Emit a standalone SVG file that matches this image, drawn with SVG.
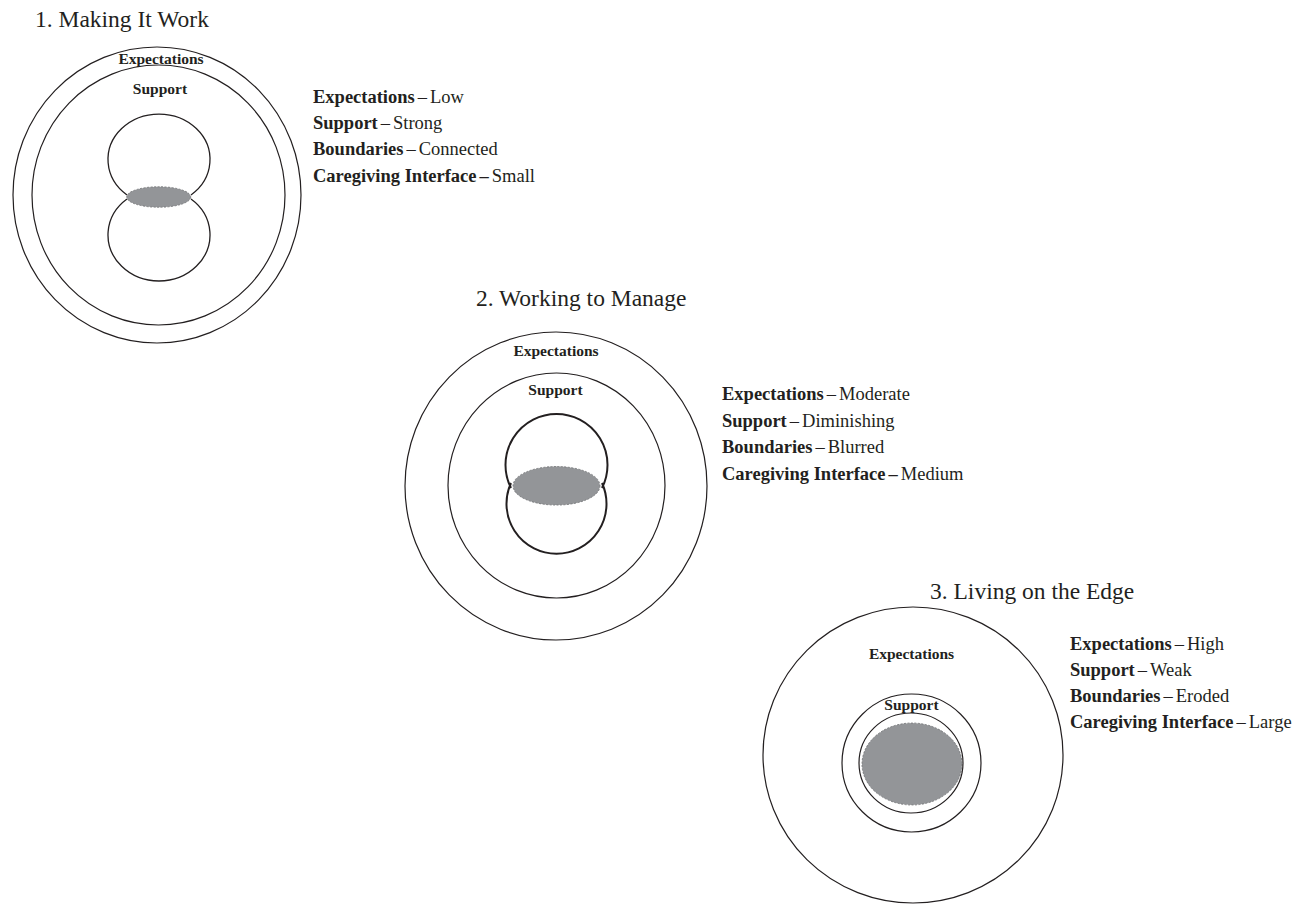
<svg xmlns="http://www.w3.org/2000/svg" width="1304" height="909" viewBox="0 0 1304 909">
<defs>
<style>
.bg{fill:#ffffff}
.ring{fill:none;stroke:#231f20;stroke-width:1.2}
.lobe{fill:none;stroke:#231f20;stroke-width:1.3}
.lobe2{fill:none;stroke:#231f20;stroke-width:2}
.care{fill:#939598;stroke:#6d6e71;stroke-width:0.8;stroke-dasharray:2 1.5}
.title{font-family:"Liberation Serif","Times New Roman",serif;font-size:23.5px;fill:#231f20}
.inlab{font-family:"Liberation Serif","Times New Roman",serif;font-size:15.5px;font-weight:bold;fill:#231f20;text-anchor:middle}
.key{font-family:"Liberation Serif","Times New Roman",serif;font-size:18.5px;fill:#231f20}
.b{font-weight:bold}
</style>
</defs>
<rect class="bg" x="0" y="0" width="1304" height="909"/>

<g id="diagram1">
<text class="title" x="35" y="27">1. Making It Work</text>
<ellipse class="ring" cx="157" cy="195" rx="144" ry="148"/>
<ellipse class="ring" cx="158.5" cy="195" rx="126.5" ry="130"/>
<path class="lobe" d="M127,195 A51,45.5 0 1 1 191,195"/>
<path class="lobe" d="M127,199 A51,46.1 0 1 0 191,199"/>
<ellipse class="care" cx="158.7" cy="197" rx="32" ry="10.3"/>
<text class="inlab" x="161" y="64">Expectations</text>
<text class="inlab" x="160" y="94">Support</text>
<text class="key" x="313" y="102.5"><tspan class="b">Expectations</tspan><tspan dx="3">–</tspan><tspan dx="3">Low</tspan></text>
<text class="key" x="313" y="128.5"><tspan class="b">Support</tspan><tspan dx="3">–</tspan><tspan dx="3">Strong</tspan></text>
<text class="key" x="313" y="155"><tspan class="b">Boundaries</tspan><tspan dx="3">–</tspan><tspan dx="3">Connected</tspan></text>
<text class="key" x="313" y="181.5"><tspan class="b">Caregiving Interface</tspan><tspan class="b" dx="3">–</tspan><tspan dx="3">Small</tspan></text>
</g>

<g id="diagram2">
<text class="title" x="476" y="306">2. Working to Manage</text>
<ellipse class="ring" cx="556" cy="486" rx="151" ry="154"/>
<ellipse class="ring" cx="556.5" cy="485.5" rx="108.5" ry="112.5"/>
<path class="lobe2" d="M511,488 A51,51 0 1 1 602,488"/>
<path class="lobe2" d="M511,483 A50,50 0 1 0 602,483"/>
<ellipse class="care" cx="556.5" cy="485.8" rx="43.5" ry="19.3"/>
<text class="inlab" x="556" y="356">Expectations</text>
<text class="inlab" x="555.5" y="395">Support</text>
<text class="key" x="722" y="400"><tspan class="b">Expectations</tspan><tspan dx="3">–</tspan><tspan dx="3">Moderate</tspan></text>
<text class="key" x="722" y="426.5"><tspan class="b">Support</tspan><tspan dx="3">–</tspan><tspan dx="3">Diminishing</tspan></text>
<text class="key" x="722" y="453"><tspan class="b">Boundaries</tspan><tspan dx="3">–</tspan><tspan dx="3">Blurred</tspan></text>
<text class="key" x="722" y="479.5"><tspan class="b">Caregiving Interface</tspan><tspan class="b" dx="3">–</tspan><tspan dx="3">Medium</tspan></text>
</g>

<g id="diagram3">
<text class="title" x="930" y="599">3. Living on the Edge</text>
<ellipse class="ring" cx="913" cy="755" rx="150" ry="148"/>
<ellipse class="ring" cx="911.5" cy="763" rx="69.5" ry="69"/>
<ellipse class="care" cx="912" cy="764" rx="50" ry="41"/>
<ellipse class="ring" cx="911" cy="763" rx="52" ry="50"/>
<text class="inlab" x="911.5" y="659">Expectations</text>
<text class="inlab" x="911.5" y="710">Support</text>
<text class="key" x="1070" y="650"><tspan class="b">Expectations</tspan><tspan dx="3">–</tspan><tspan dx="3">High</tspan></text>
<text class="key" x="1070" y="676"><tspan class="b">Support</tspan><tspan dx="3">–</tspan><tspan dx="3">Weak</tspan></text>
<text class="key" x="1070" y="702"><tspan class="b">Boundaries</tspan><tspan dx="3">–</tspan><tspan dx="3">Eroded</tspan></text>
<text class="key" x="1070" y="728"><tspan class="b">Caregiving Interface</tspan><tspan dx="3">–</tspan><tspan dx="3">Large</tspan></text>
</g>
</svg>
